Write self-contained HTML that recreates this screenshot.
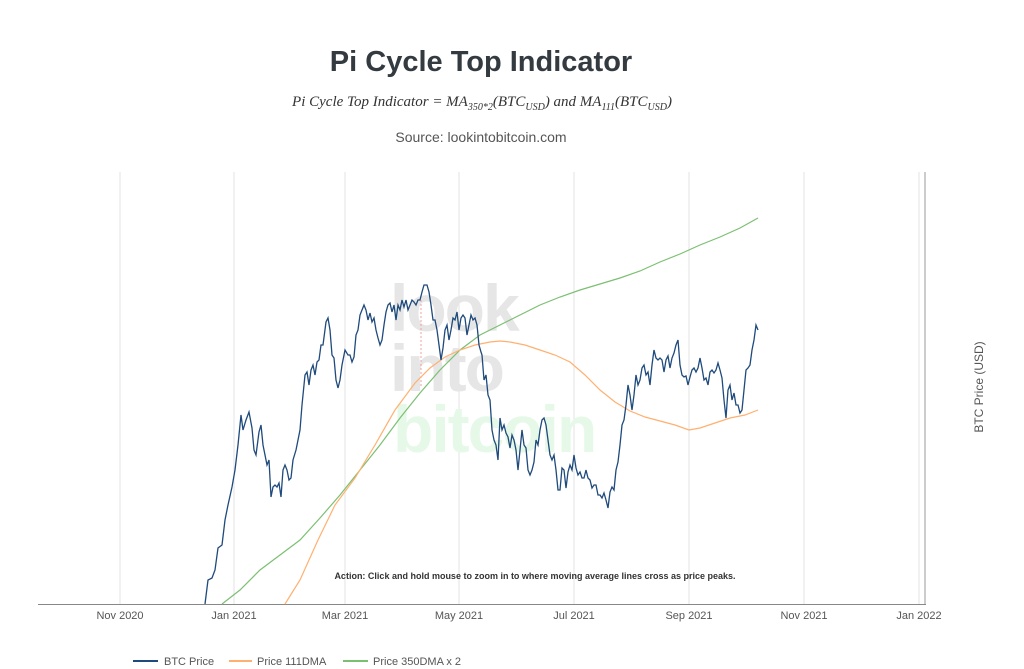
<!DOCTYPE html>
<html><head><meta charset="utf-8"><style>
html,body{margin:0;padding:0;background:#fff;}
svg{display:block;font-family:"Liberation Sans",sans-serif;}
</style></head><body>
<svg width="1024" height="669" viewBox="0 0 1024 669">
<text x="481" y="71" text-anchor="middle" font-size="29" font-weight="bold" fill="#333a40">Pi Cycle Top Indicator</text>
<text x="482" y="106" text-anchor="middle" font-size="15" font-style="italic" font-family="Liberation Serif,serif" fill="#333">Pi Cycle Top Indicator = MA<tspan font-size="10" dy="4">350*2</tspan><tspan dy="-4">(BTC</tspan><tspan font-size="10" dy="4">USD</tspan><tspan dy="-4">) and MA</tspan><tspan font-size="10" dy="4">111</tspan><tspan dy="-4">(BTC</tspan><tspan font-size="10" dy="4">USD</tspan><tspan dy="-4">)</tspan></text>
<text x="481" y="142" text-anchor="middle" font-size="14" fill="#555">Source: lookintobitcoin.com</text>
<g stroke="#e3e3e3" stroke-width="1">
<line x1="120" y1="172" x2="120" y2="604"/><line x1="234" y1="172" x2="234" y2="604"/><line x1="345" y1="172" x2="345" y2="604"/><line x1="459" y1="172" x2="459" y2="604"/><line x1="574" y1="172" x2="574" y2="604"/><line x1="689" y1="172" x2="689" y2="604"/><line x1="804" y1="172" x2="804" y2="604"/><line x1="919" y1="172" x2="919" y2="604"/>
</g>
<line x1="925" y1="172" x2="925" y2="604" stroke="#999"/>
<line x1="38" y1="604.5" x2="926" y2="604.5" stroke="#888"/>
<g font-weight="bold" font-size="66" letter-spacing="-2">
<text x="390" y="331" fill="#e6e6e6">look</text>
<text x="390" y="391" fill="#e6e6e6">into</text>
<text x="393" y="452" fill="#e6f9e8">bitcoin</text>
</g>
<line x1="421" y1="300" x2="421" y2="388" stroke="#f3a0a0" stroke-dasharray="2,2"/>
<polyline fill="none" stroke="#7cbf72" stroke-width="1.2" points="222,604 240,590 260,570 280,555 300,540 320,518 340,495 360,470 380,445 400,418 420,393 440,370 460,350 480,335 500,325 520,315 540,305 560,297 580,290 600,284 620,278 640,271 660,262 680,254 700,245 720,237 740,228 758,218"/>
<polyline fill="none" stroke="#ffb070" stroke-width="1.2" points="285,604 300,580 318,540 335,505 355,478 375,445 395,410 415,383 430,368 445,357 460,350 475,345 490,342 500,341 510,342 525,345 540,350 555,355 570,362 585,375 600,390 615,402 630,411 645,417 660,421 675,425 689,430 700,428 715,423 730,418 745,415 758,410"/>
<polyline fill="none" stroke="#1f4a7c" stroke-width="1.3" points="205,604 208,580 212,578 215,570 218,548 222,545 225,520 228,505 232,487 235,470 238,445 241,415 243,430 246,420 249,412 252,428 254,450 256,455 259,432 261,425 263,445 265,455 267,465 269,460 271,497 273,487 275,485 277,487 279,483 281,497 283,470 285,465 287,470 289,480 291,478 293,460 296,450 298,440 300,430 302,405 305,375 307,372 309,385 311,370 313,365 315,375 317,362 319,360 321,345 323,345 326,322 328,318 330,330 332,355 334,358 336,380 338,388 340,380 342,365 345,350 348,355 350,355 352,362 354,357 356,335 358,330 360,315 362,310 364,305 366,310 368,320 370,313 372,322 374,318 376,330 378,338 380,345 382,340 384,325 386,312 388,305 390,303 392,312 394,305 396,320 398,305 400,310 402,300 404,307 406,300 408,310 410,305 412,300 414,302 416,305 418,300 420,300 422,292 424,285 427,285 429,292 431,305 433,320 435,320 437,330 439,345 441,360 443,348 445,330 447,325 449,340 451,330 453,318 455,320 457,312 459,330 461,318 463,315 465,318 467,335 469,325 471,315 473,320 475,318 477,325 479,345 481,352 482,355 484,380 486,375 488,395 490,400 492,430 494,440 496,445 498,460 500,418 502,430 504,425 506,433 508,437 510,448 512,435 514,440 516,450 518,470 520,450 522,430 524,445 526,448 528,470 530,475 532,470 534,462 536,440 538,445 540,430 542,420 544,418 546,425 548,440 550,455 552,460 554,455 556,470 558,490 560,490 562,468 564,470 566,488 568,472 570,465 572,470 574,455 576,468 578,475 580,472 582,478 584,478 586,470 588,478 590,480 592,488 594,485 596,485 598,495 600,495 602,498 604,493 606,500 608,508 610,492 612,487 614,490 616,470 618,462 620,445 622,425 624,420 626,405 628,385 630,395 632,410 634,395 636,375 638,385 640,380 642,368 644,365 646,375 648,372 650,385 652,365 654,350 656,358 658,360 660,358 662,360 664,372 666,360 668,356 670,368 672,358 674,353 676,345 678,340 680,365 682,375 684,377 686,376 688,385 690,377 692,370 694,368 696,372 698,368 700,358 702,368 704,380 706,378 708,385 710,372 712,370 714,373 716,370 718,363 720,370 722,378 724,400 726,418 728,390 730,385 732,400 734,393 736,405 738,405 740,413 742,410 744,390 746,370 748,368 750,365 752,350 754,340 756,325 758,330"/>
<text x="535" y="579" text-anchor="middle" font-size="9" font-weight="bold" fill="#333">Action: Click and hold mouse to zoom in to where moving average lines cross as price peaks.</text>
<g font-size="11" fill="#555" text-anchor="middle">
<text x="120" y="619">Nov 2020</text><text x="234" y="619">Jan 2021</text><text x="345" y="619">Mar 2021</text><text x="459" y="619">May 2021</text><text x="574" y="619">Jul 2021</text><text x="689" y="619">Sep 2021</text><text x="804" y="619">Nov 2021</text><text x="919" y="619">Jan 2022</text>
</g>
<text transform="translate(983,387) rotate(-90)" text-anchor="middle" font-size="12" fill="#555">BTC Price (USD)</text>
<g font-size="11" fill="#555">
<line x1="133" y1="661" x2="158" y2="661" stroke="#1f4a7c" stroke-width="2"/><text x="164" y="665">BTC Price</text>
<line x1="229" y1="661" x2="252" y2="661" stroke="#ffb070" stroke-width="2"/><text x="257" y="665">Price 111DMA</text>
<line x1="343" y1="661" x2="368" y2="661" stroke="#7cbf72" stroke-width="2"/><text x="373" y="665">Price 350DMA x 2</text>
</g>
</svg>
</body></html>
